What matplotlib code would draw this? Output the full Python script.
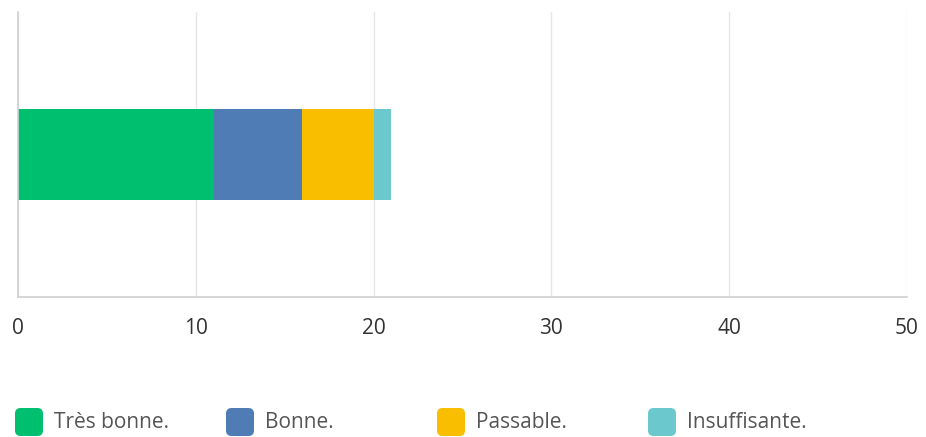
import matplotlib.pyplot as plt
from matplotlib.patches import FancyBboxPatch

plt.rcParams['font.family'] = ['Open Sans', 'DejaVu Sans']

categories = ['Très bonne.', 'Bonne.', 'Passable.', 'Insuffisante.']
values = [11, 5, 4, 1]
colors = ['#00BF6F', '#507CB6', '#F9BE00', '#6BC8CD']
xticks = [0, 10, 20, 30, 40, 50]

fig = plt.figure(figsize=(9.26, 4.37), dpi=100, facecolor='white')
ax = fig.add_axes([0.0194, 0.3204, 0.9601, 0.6521])

left = 0
for cat, val, col in zip(categories, values, colors):
    ax.barh(0, val, left=left, height=0.316, color=col, zorder=2)
    left += val

ax.set_xlim(0, 50)
ax.set_ylim(-0.5, 0.5)
ax.set_yticks([])
ax.set_xticks(xticks)
ax.tick_params(axis='x', length=0, pad=15, labelsize=15, labelcolor='#333333')
ax.grid(axis='x', color='#e6e6e6', linewidth=1, zorder=0)
for s in ['top', 'right']:
    ax.spines[s].set_visible(False)
for s in ['left', 'bottom']:
    ax.spines[s].set_color('#d0d0d0')
    ax.spines[s].set_linewidth(1.2)

# legend drawn by hand: rounded squares + labels, evenly spaced
W, H = 926, 437
for i, (cat, col) in enumerate(zip(categories, colors)):
    x0 = 15 + i * 211
    box = FancyBboxPatch((x0 / W, (H - 436) / H), 28 / W, 28 / H,
                         boxstyle='round,pad=0,rounding_size=0.006',
                         transform=fig.transFigure, facecolor=col,
                         edgecolor='none', mutation_aspect=W / H)
    fig.patches.append(box)
    fig.text((x0 + 39) / W, (H - 423) / H, cat, fontsize=15,
             color='#555555', va='center', ha='left')

fig.savefig('out.png', dpi=100, facecolor='white')
